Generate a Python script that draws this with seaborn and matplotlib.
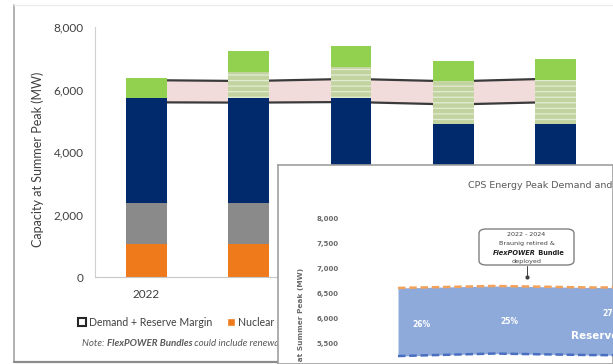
import numpy as np
import pandas as pd
import matplotlib
matplotlib.use("Agg")
import matplotlib.pyplot as plt
import seaborn as sns
from matplotlib.patches import Patch, FancyBboxPatch
from matplotlib.lines import Line2D
from matplotlib.ticker import FuncFormatter

# ---------------- data (main chart) ----------------
years = ["2022", "2023", "2024", "2025", "2026"]
year_labels = ["2022", "", "2024", "", "2026"]
nuclear = [1050, 1050, 1050, 1050, 1050]
gas = [1320, 1320, 1320, 1320, 1320]
coal = [3360, 3360, 3360, 2530, 2530]
flexpower = [0, 830, 990, 1370, 1400]
solar = [640, 670, 670, 640, 670]
demand_reserve_upper = [6300, 6270, 6340, 6260, 6350]
demand_reserve_lower = [5590, 5580, 5600, 5520, 5600]

# ---------------- data (inset chart) ----------------
inset_years = [2022, 2023, 2024, 2025]
inset_peak_plus_reserve = [6610, 6650, 6620, 6620]
inset_peak = [5240, 5290, 5260, 5250]
inset_pct = ["26%", "25%", "27%"]
inset_pct_x = [2022.15, 2023.07, 2024.13]
inset_pct_y = [5880, 5940, 6100]

W, H = 613, 364
def fx(x): return x / W
def fy(y): return 1 - y / H

sns.set_style("white")
plt.rcParams["font.family"] = ["Lato", "DejaVu Sans"]
plt.rcParams["hatch.linewidth"] = 0.9

fig = plt.figure(figsize=(W / 100, H / 100), dpi=100)
fig.patch.set_facecolor("white")

# ---------------- main chart ----------------
AX_L, AX_R = 95, 607
ax = fig.add_axes([fx(AX_L), fy(277), fx(AX_R) - fx(AX_L), fy(27) - fy(277)])
ax.set_zorder(0)

df = pd.DataFrame({"year": years, "nuclear": nuclear, "gas": gas, "coal": coal,
                   "flex": flexpower, "solar": solar})
df["t_nuclear"] = df["nuclear"]
df["t_gas"] = df["t_nuclear"] + df["gas"]
df["t_coal"] = df["t_gas"] + df["coal"]
df["t_flex"] = df["t_coal"] + df["flex"]
df["t_solar"] = df["t_flex"] + df["solar"]

layers = [
    ("t_solar", "#92d050", None),
    ("t_flex", "#c2d3a0", "---"),
    ("t_coal", "#002a6b", None),
    ("t_gas", "#8a8a8a", None),
    ("t_nuclear", "#ee7a1c", None),
]
for col, colr, hatch in layers:
    kw = dict(linewidth=0)
    if hatch:
        kw.update(hatch=hatch, edgecolor="#e4ecd4")
    sns.barplot(data=df, x="year", y=col, color=colr, width=0.4, saturation=1,
                errorbar=None, ax=ax, zorder=2, **kw)

xpos = np.arange(len(years))
ax.fill_between(xpos, demand_reserve_lower, demand_reserve_upper,
                color="#f2dcdb", zorder=0.5, linewidth=0)
sns.lineplot(x=xpos, y=demand_reserve_upper, color="#3a3a3a", linewidth=1.6,
             ax=ax, zorder=1)
sns.lineplot(x=xpos, y=demand_reserve_lower, color="#3a3a3a", linewidth=1.6,
             ax=ax, zorder=1)

ax.set_xlim(-0.5, 4.5)
ax.set_ylim(0, 8000)
ax.set_yticks([0, 2000, 4000, 6000, 8000])
ax.yaxis.set_major_formatter(FuncFormatter(lambda v, p: f"{int(v):,}"))
ax.set_xticks(xpos)
ax.set_xticklabels(year_labels)
ax.set_xticks(np.arange(-0.5, 5, 1), minor=True)
ax.tick_params(axis="x", which="major", length=0, labelsize=8.5,
               labelcolor="#404040", pad=9)
ax.tick_params(axis="x", which="minor", length=5, color="#c8c8c8", width=0.8)
ax.tick_params(axis="y", length=4, color="#c8c8c8", width=0.8, labelsize=8.5,
               labelcolor="#404040", pad=4)
ax.set_xlabel("")
ax.set_ylabel("Capacity at Summer Peak (MW)", fontsize=9, color="#404040")
ax.yaxis.set_label_coords((44 - AX_L) / (AX_R - AX_L), 0.47)
for s in ["top", "right"]:
    ax.spines[s].set_visible(False)
ax.spines["left"].set_color("#d0d0d0")
ax.spines["bottom"].set_color("#c8c8c8")
ax.spines["left"].set_linewidth(0.8)
ax.spines["bottom"].set_linewidth(0.8)

handles = [
    Patch(facecolor="white", edgecolor="#262626", linewidth=1.5),
    Patch(facecolor="#ee7a1c"),
    Patch(facecolor="#8a8a8a"),
    Patch(facecolor="#002a6b"),
    Patch(facecolor="#c2d3a0"),
    Patch(facecolor="#92d050"),
]
labels = ["Demand + Reserve Margin", "Nuclear", "Gas", "Coal",
          "FlexPOWER Bundle", "Solar"]
ax.legend(handles, labels, loc="center left", bbox_to_anchor=(fx(78), fy(322)),
          bbox_transform=fig.transFigure, ncol=6, frameon=False, fontsize=7.6,
          handlelength=0.75, handleheight=0.75, handletextpad=0.25,
          columnspacing=1.45, borderpad=0, borderaxespad=0, labelcolor="#404040")

t1 = ax.text(fx(82), fy(343), "Note: ", transform=fig.transFigure, fontsize=7,
             style="italic", color="#595959", va="center", clip_on=False)
t2 = ax.annotate("FlexPOWER Bundles", xy=(1, 0), xycoords=t1, va="bottom",
                 fontsize=7, style="italic", weight="bold", color="#595959")
t3 = ax.annotate(" could include renewables, storage and other resources",
                 xy=(1, 0), xycoords=t2, va="bottom", fontsize=7,
                 style="italic", color="#595959")

# slide frame of the main chart
fig.add_artist(Line2D([fx(14), fx(14)], [fy(5), fy(362)], color="#a6a6a6",
                      lw=1.2, transform=fig.transFigure, zorder=1))
fig.add_artist(Line2D([fx(14), fx(300)], [fy(362), fy(362)], color="#8c8c8c",
                      lw=1.6, transform=fig.transFigure, zorder=1))
fig.add_artist(Line2D([fx(14), fx(613)], [fy(5), fy(5)], color="#ececec",
                      lw=1.0, transform=fig.transFigure, zorder=1))

# ---------------- inset panel ----------------
panel = fig.add_axes([fx(278), 0, 1 - fx(278), fy(165)])
panel.set_zorder(5)
panel.set_facecolor("white")
panel.set_xticks([])
panel.set_yticks([])
for s in panel.spines.values():
    s.set_color("#a0a0a0")
    s.set_linewidth(1.2)

IN_L = 350
ax_in = fig.add_axes([fx(IN_L), 0, 1 - fx(IN_L), fy(200)])
ax_in.set_zorder(6)
ax_in.patch.set_alpha(0)
ax_in.set_xlim(2021.5, 2021.5 + (W - IN_L) / 96)
ax_in.set_ylim(5080, 8380)

ax_in.fill_between(inset_years, inset_peak, inset_peak_plus_reserve,
                   color="#8eaadb", linewidth=0, zorder=1)
sns.lineplot(x=inset_years, y=inset_peak_plus_reserve, color="#f4a25a",
             linewidth=1.8, linestyle=(0, (3, 1.5)), ax=ax_in, zorder=2)
sns.lineplot(x=inset_years, y=inset_peak, color="#4a6fc0",
             linewidth=1.8, linestyle=(0, (3, 1.5)), ax=ax_in, zorder=2)

for s, xv, yv in zip(inset_pct, inset_pct_x, inset_pct_y):
    ax_in.text(xv, yv, s, color="white", fontsize=5.5, weight="bold",
               family="DejaVu Sans", ha="left", va="center")
ax_in.text(2023.8, 5640, "Reserve Margin", color="white", fontsize=7.5,
           weight="bold", family="DejaVu Sans", ha="left", va="center")

ax_in.set_yticks([5500, 6000, 6500, 7000, 7500, 8000])
ax_in.yaxis.set_major_formatter(FuncFormatter(lambda v, p: f"{int(v):,}"))
ax_in.set_xticks([])
ax_in.tick_params(axis="y", length=0, pad=8)
for lab in ax_in.get_yticklabels():
    lab.set_fontfamily("DejaVu Sans")
    lab.set_fontweight("bold")
    lab.set_fontsize(5)
    lab.set_color("#6a6a6a")
for s in ax_in.spines.values():
    s.set_visible(False)
ax_in.set_ylabel("Capacity at Summer Peak (MW)", fontsize=5.3, weight="bold",
                 family="DejaVu Sans", color="#6a6a6a")
ax_in.yaxis.set_label_coords((304 - IN_L) / (W - IN_L), (364 - 334) / 164)

fig.text(fx(468), fy(185), "CPS Energy Peak Demand and Reserve Margin",
         fontsize=6.8, color="#5a5a5a", family="DejaVu Sans", va="center",
         ha="left", zorder=10)

# annotation box
box = FancyBboxPatch((fx(479), fy(265)), fx(574) - fx(479), fy(229) - fy(265),
                     boxstyle="round,pad=0,rounding_size=0.012",
                     transform=fig.transFigure, facecolor="white",
                     edgecolor="#808080", linewidth=1.0, zorder=9)
fig.add_artist(box)
cx = fx(526.5)
fig.text(cx, fy(235), "2022 - 2024", fontsize=4.6, family="DejaVu Sans",
         color="#404040", ha="center", va="center", zorder=10)
fig.text(cx, fy(244), "Braunig retired &", fontsize=4.6, family="DejaVu Sans",
         color="#404040", ha="center", va="center", zorder=10)
b1 = fig.text(fx(493), fy(253), "FlexPOWER", fontsize=4.8, family="DejaVu Sans",
              weight="bold", style="italic", color="#202020", ha="left",
              va="center", zorder=10)
fig.add_artist(plt.Annotation(" Bundle", xy=(1, 0), xycoords=b1, va="bottom",
                              fontsize=4.8, family="DejaVu Sans", weight="bold",
                              color="#202020", zorder=10))
fig.text(cx, fy(261), "deployed", fontsize=4.6, family="DejaVu Sans",
         color="#404040", ha="center", va="center", zorder=10)
fig.add_artist(Line2D([cx, cx], [fy(266), fy(277)], color="#404040", lw=0.7,
                      marker="o", markersize=2, markevery=[1],
                      transform=fig.transFigure, zorder=10))

fig.savefig("out.png", dpi=100)
